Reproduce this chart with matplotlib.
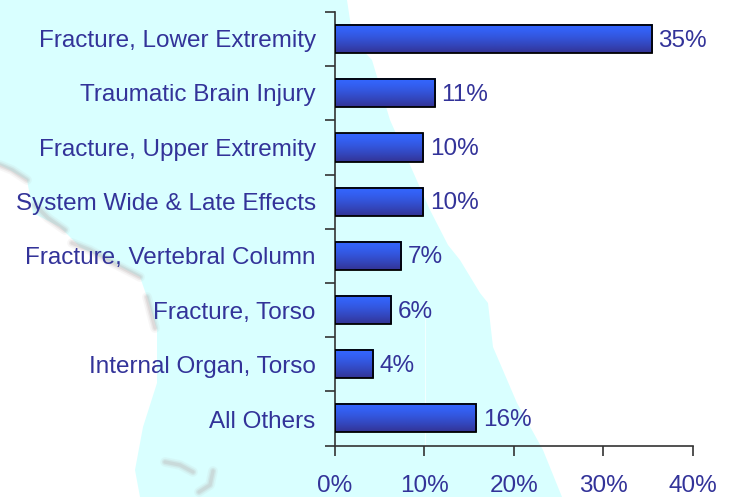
import numpy as np
import matplotlib.pyplot as plt
from matplotlib.patches import Polygon

plt.rcParams['font.family'] = ['Liberation Sans', 'DejaVu Sans']

categories = ['Fracture, Lower Extremity', 'Traumatic Brain Injury', 'Fracture, Upper Extremity',
              'System Wide & Late Effects', 'Fracture, Vertebral Column', 'Fracture, Torso',
              'Internal Organ, Torso', 'All Others']
values = [35.4, 11.2, 9.9, 9.9, 7.4, 6.3, 4.3, 15.8]
bar_labels = ['35%', '11%', '10%', '10%', '7%', '6%', '4%', '16%']
x_ticks = [0, 10, 20, 30, 40]

TEXT = '#333399'
W, H = 733, 497

fig = plt.figure(figsize=(W / 100, H / 100), dpi=100)

# background map, drawn in pixel coords
bg = fig.add_axes([0, 0, 1, 1], zorder=0)
bg.set_xlim(0, W)
bg.set_ylim(H, 0)
bg.axis('off')
land = [(0, 0), (347, 0), (353, 40), (372, 60), (390, 120), (410, 165), (430, 210), (448, 245),
        (460, 260), (480, 293), (488, 303), (493, 347), (517, 403), (543, 450), (562, 497),
        (140, 497), (135, 470), (143, 427), (157, 383), (157, 330), (147, 297), (140, 277),
        (113, 263), (80, 247), (60, 227), (33, 213), (27, 180), (10, 170), (0, 165)]
bg.add_patch(Polygon(land, closed=True, fc='#d9ffff', ec='none'))

# soft grey shoreline pieces
shore = [[(0, 165), (12, 170), (27, 180)],
         [(35, 205), (48, 218), (65, 230)],
         [(72, 243), (90, 250), (113, 263), (140, 277)],
         [(147, 297), (155, 328)],
         [(165, 462), (180, 465), (193, 472)],
         [(199, 492), (210, 485), (213, 471)]]
for piece in shore:
    for lw, a in [(7, 0.1), (4.5, 0.18), (2.5, 0.25)]:
        bg.plot(*zip(*piece), color='#b8b0b0', lw=lw, alpha=a, solid_capstyle='round')
bg.plot([424.5, 424.5], [300, 445], color='white', lw=0.7, alpha=0.7)

ax = fig.add_axes([334.5 / W, 1 - 445.5 / H, (693 - 334.5) / W, (445.5 - 12) / H], zorder=1)
ax.patch.set_alpha(0)
y = np.arange(len(categories))

# bars with a vertical gradient
grad = np.linspace(0, 1, 64)[:, None, None] ** 1.4
top = np.array([0.2, 0.4, 1.0])
bottom = np.array([0.2, 0.2, 0.58])
img = top + (bottom - top) * grad
for yi, v, lab in zip(y, values, bar_labels):
    ax.barh(yi, v, height=0.52, color='none', edgecolor='black', linewidth=1.3, zorder=3)
    ax.imshow(img, extent=[0, v, yi + 0.26, yi - 0.26], aspect='auto', zorder=2)
    ax.text(v + 0.75, yi + 0.03, lab, va='center', ha='left', color=TEXT, fontsize=17.5)
ax.set_xlim(0, 40)
ax.set_ylim(len(categories) - 0.5, -0.5)

for s in ['top', 'right']:
    ax.spines[s].set_visible(False)
for s in ['left', 'bottom']:
    ax.spines[s].set_color('#333333')
    ax.spines[s].set_linewidth(1.2)

ax.set_yticks(np.arange(len(categories) + 1) - 0.5)
ax.set_yticklabels([])
ax.tick_params(axis='y', length=7, width=1.2, direction='out', color='#333333')
ax.set_xticks(x_ticks)
ax.set_xticklabels([f'{t}%' for t in x_ticks], color=TEXT, fontsize=17.5)
ax.tick_params(axis='x', length=7, width=1.2, direction='out', pad=14, color='#333333')
for yi, c in zip(y, categories):
    ax.text(-2.1, yi * 1.004 + 0.03, c, ha='right', va='center', color=TEXT, fontsize=17.5)

fig.savefig('out.png', dpi=100)
